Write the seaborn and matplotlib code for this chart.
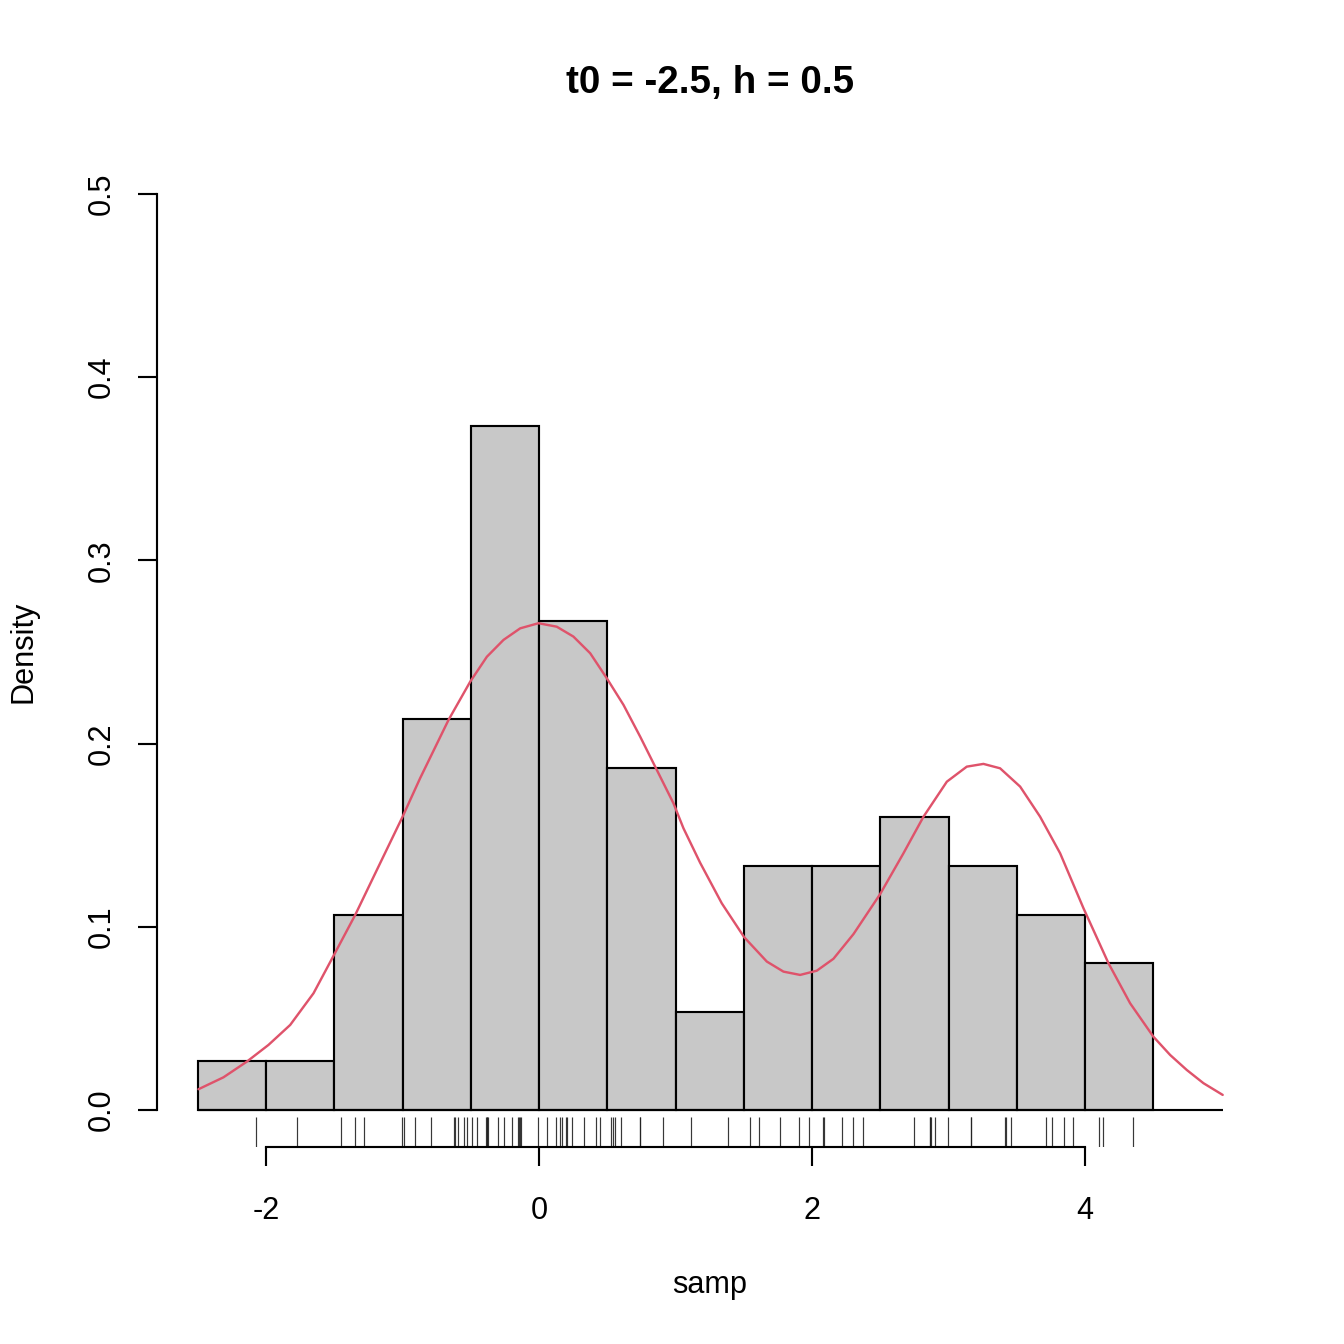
import numpy as np
import pandas as pd
import seaborn as sns
import matplotlib.pyplot as plt

# ---------------- data ----------------
samp = [
    -2.075,
    -1.775,
    -1.451, -1.346, -1.280, -1.002,
    -0.991, -0.913, -0.791, -0.627, -0.615, -0.598, -0.554, -0.525,
    -0.491, -0.452, -0.393, -0.385, -0.383, -0.374, -0.303, -0.256,
    -0.200, -0.156, -0.144, -0.140, -0.132, -0.005,
    0.056, 0.122, 0.154, 0.166, 0.195, 0.203, 0.237, 0.327, 0.413, 0.447,
    0.530, 0.540, 0.554, 0.601, 0.740, 0.742, 0.911,
    1.111, 1.382,
    1.546, 1.614, 1.766, 1.907, 1.980,
    2.078, 2.088, 2.217, 2.303, 2.371,
    2.747, 2.860, 2.866, 2.870, 2.903, 2.995,
    3.162, 3.167, 3.414, 3.420, 3.460,
    3.714, 3.756, 3.846, 3.912,
    4.100, 4.130, 4.352,
]
bin_edges = [-2.5, -2.0, -1.5, -1.0, -0.5, 0.0, 0.5, 1.0, 1.5,
             2.0, 2.5, 3.0, 3.5, 4.0, 4.5]

# red density curve
curve_x = [-2.496, -2.313, -2.141, -1.983, -1.824, -1.653, -1.499, -1.348,
           -1.189, -1.001, -0.872, -0.664, -0.505, -0.383, -0.261, -0.139,
           -0.005, 0.129, 0.251, 0.374, 0.496, 0.618, 0.740, 0.850, 0.984,
           1.057, 1.179, 1.338, 1.502, 1.668, 1.790, 1.912, 2.034, 2.156,
           2.303, 2.498, 2.669, 2.816, 2.987, 3.133, 3.255, 3.377, 3.524,
           3.670, 3.817, 3.988, 4.110, 4.171, 4.330, 4.500, 4.623, 4.745,
           4.867, 5.008]
curve_y = [0.0113, 0.0178, 0.0264, 0.0355, 0.0464, 0.0637, 0.0852, 0.1064,
           0.1310, 0.1600, 0.1811, 0.2129, 0.2338, 0.2474, 0.2566, 0.2629,
           0.2657, 0.2638, 0.2584, 0.2493, 0.2356, 0.2211, 0.2038, 0.1874,
           0.1674, 0.1538, 0.1350, 0.1128, 0.0943, 0.0810, 0.0755, 0.0737,
           0.0760, 0.0825, 0.0960, 0.1178, 0.1401, 0.1601, 0.1792, 0.1874,
           0.1889, 0.1865, 0.1765, 0.1601, 0.1401, 0.1101, 0.0901, 0.0801,
           0.0582, 0.0400, 0.0300, 0.0218, 0.0146, 0.0082]

x_ticks = [-2, 0, 2, 4]
y_ticks = [0.0, 0.1, 0.2, 0.3, 0.4, 0.5]

# ---------------- style ----------------
sns.set_style("ticks")
plt.rcParams["font.family"] = ["Liberation Sans", "DejaVu Sans"]
plt.rcParams["text.color"] = "black"
plt.rcParams["axes.labelcolor"] = "black"

fig = plt.figure(figsize=(7, 7), dpi=192)
ax = fig.add_axes([0.1168, 0.1469, 0.8226, 0.736])

sns.histplot(x=samp, bins=bin_edges, stat="density", color="#c8c8c8",
             edgecolor="black", linewidth=0.8, alpha=1, ax=ax)
ax.hlines(0, curve_x[0], curve_x[-1], color="black", lw=0.8, zorder=3)
curve = pd.DataFrame({"x": curve_x, "y": curve_y})
sns.lineplot(data=curve, x="x", y="y", color="#DF536B", lw=0.9,
             sort=False, ax=ax, zorder=4)
sns.rugplot(x=samp, height=0.03, color="#222222", linewidth=0.45,
            alpha=0.9, ax=ax)

ax.set_xlim(-2.8, 5.3)
ax.set_ylim(-0.02, 0.52)

for s in ["top", "right"]:
    ax.spines[s].set_visible(False)
ax.spines["left"].set_bounds(0, 0.5)
ax.spines["bottom"].set_bounds(-2, 4)
for s in ["left", "bottom"]:
    ax.spines[s].set_linewidth(0.8)
    ax.spines[s].set_color("black")

ax.set_xticks(x_ticks)
ax.set_xticklabels([str(t) for t in x_ticks])
ax.set_yticks(y_ticks)
ax.set_yticklabels([f"{t:.1f}" for t in y_ticks], rotation=90, va="center")
ax.tick_params(direction="out", length=7, width=0.8, labelsize=11.5,
               colors="black")
ax.tick_params(axis="x", pad=11.5)
ax.tick_params(axis="y", pad=8)

ax.set_xlabel("samp", fontsize=11.5)
ax.xaxis.set_label_coords(0.5, -0.140)
ax.xaxis.label.set_va("center")
ax.set_ylabel("Density", fontsize=11.5)
ax.yaxis.set_label_coords(-0.1203, 0.5)
ax.yaxis.label.set_va("center")

ax.set_title("t0 = -2.5, h = 0.5", fontsize=14.5, fontweight="bold",
             color="black", y=1.065, pad=0)

plt.savefig("out.png", dpi=192)
plt.close()
